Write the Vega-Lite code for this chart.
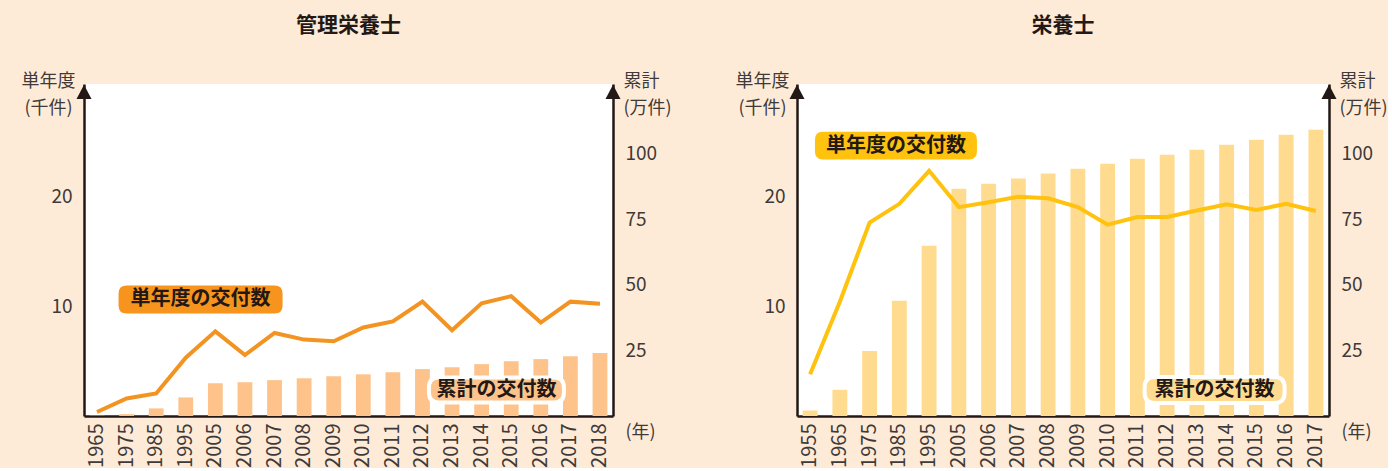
{
  "$schema": "https://vega.github.io/schema/vega-lite/v6.json",
  "background": "#FEEBD7",
  "padding": {"left": 21, "top": 15, "right": 0, "bottom": 0},
  "bounds": "flush",
  "spacing": 184,
  "config": {
    "font": "Noto Sans CJK JP",
    "view": {"fill": "white", "stroke": null},
    "title": {"font": "Noto Sans CJK JP", "fontSize": 21, "fontWeight": "bold", "color": "#231815"},
    "axis": {
      "domainColor": "#231815", "domainWidth": 2.5, "ticks": false, "grid": false,
      "labelFont": "Noto Sans CJK JP", "labelColor": "#3E3A39", "labelFontSize": 19,
      "titleFont": "Noto Sans CJK JP", "titleColor": "#3E3A39", "titleFontSize": 18, "titleFontWeight": "normal"
    },
    "text": {"font": "Noto Sans CJK JP"}
  },
  "datasets": {
    "kanri": [
      {"year": "1965", "yearly": 0.36, "cum": 0.1},
      {"year": "1975", "yearly": 1.6, "cum": 0.7},
      {"year": "1985", "yearly": 2.05, "cum": 2.9},
      {"year": "1995", "yearly": 5.3, "cum": 7.1},
      {"year": "2005", "yearly": 7.7, "cum": 12.5},
      {"year": "2006", "yearly": 5.55, "cum": 12.9},
      {"year": "2007", "yearly": 7.55, "cum": 13.7},
      {"year": "2008", "yearly": 6.95, "cum": 14.4},
      {"year": "2009", "yearly": 6.8, "cum": 15.2},
      {"year": "2010", "yearly": 8.05, "cum": 15.9},
      {"year": "2011", "yearly": 8.6, "cum": 16.7},
      {"year": "2012", "yearly": 10.4, "cum": 17.9},
      {"year": "2013", "yearly": 7.8, "cum": 18.6},
      {"year": "2014", "yearly": 10.25, "cum": 19.8},
      {"year": "2015", "yearly": 10.9, "cum": 20.9},
      {"year": "2016", "yearly": 8.5, "cum": 21.7},
      {"year": "2017", "yearly": 10.4, "cum": 22.8},
      {"year": "2018", "yearly": 10.2, "cum": 24.0}
    ],
    "eiyo": [
      {"year": "1955", "yearly": 3.8, "cum": 2.1},
      {"year": "1965", "yearly": 10.4, "cum": 10.0},
      {"year": "1975", "yearly": 17.6, "cum": 24.8},
      {"year": "1985", "yearly": 19.3, "cum": 44.0},
      {"year": "1995", "yearly": 22.3, "cum": 65.0},
      {"year": "2005", "yearly": 19.0, "cum": 86.7},
      {"year": "2006", "yearly": 19.45, "cum": 88.6},
      {"year": "2007", "yearly": 19.95, "cum": 90.6},
      {"year": "2008", "yearly": 19.8, "cum": 92.5},
      {"year": "2009", "yearly": 19.0, "cum": 94.4},
      {"year": "2010", "yearly": 17.4, "cum": 96.3},
      {"year": "2011", "yearly": 18.1, "cum": 98.2},
      {"year": "2012", "yearly": 18.1, "cum": 99.7},
      {"year": "2013", "yearly": 18.7, "cum": 101.6},
      {"year": "2014", "yearly": 19.25, "cum": 103.5},
      {"year": "2015", "yearly": 18.75, "cum": 105.4},
      {"year": "2016", "yearly": 19.3, "cum": 107.3},
      {"year": "2017", "yearly": 18.65, "cum": 109.2}
    ]
  },
  "hconcat": [
    {
      "title": {"text": "管理栄養士", "frame": "group", "anchor": "middle", "baseline": "middle", "offset": 25},
      "width": 529,
      "height": 332,
      "encoding": {
        "x": {
          "field": "year", "type": "ordinal",
          "scale": {"domain": ["1965","1975","1985","1995","2005","2006","2007","2008","2009","2010","2011","2012","2013","2014","2015","2016","2017","2018"], "paddingInner": 0.5, "paddingOuter": 0.19},
          "axis": {"title": "(年)", "titleAngle": 0, "titleAlign": "left", "titleBaseline": "middle", "titleX": 541, "titleY": 16, "labelAngle": 270, "labelPadding": 7, "labelFontSize": 20, "labelOverlap": false}
        }
      },
      "layer": [
        {
          "data": {"name": "kanri"},
          "mark": {"type": "bar", "color": "#FDC38B"},
          "encoding": {
            "y": {"field": "cum", "type": "quantitative", "scale": {"domain": [0, 126.7], "nice": false},
              "axis": {"orient": "right", "values": [25, 50, 75, 100], "labelPadding": 12, "title": ["累計", "(万件)"], "titleAngle": 0, "titleAlign": "left", "titleBaseline": "alphabetic", "titleX": 10, "titleY": 2, "titleLineHeight": 27}}
          }
        },
        {
          "data": {"values": [{"year": "2014", "v": 2.36, "label": "累計の交付数"}]},
          "mark": {"type": "point", "filled": true, "opacity": 1, "color": "#FDC38B", "stroke": "white", "strokeWidth": 4, "size": 18225,
            "shape": "M -0.852 -0.185 L 0.852 -0.185 Q 1 -0.185 1 -0.037 L 1 0.037 Q 1 0.185 0.852 0.185 L -0.852 0.185 Q -1 0.185 -1 0.037 L -1 -0.037 Q -1 -0.185 -0.852 -0.185 Z"},
          "encoding": {
            "x": {"field": "year", "type": "ordinal", "bandPosition": 1.5},
            "y": {"field": "v", "type": "quantitative", "scale": {"domain": [0, 30.2], "nice": false}, "axis": null}
          }
        },
        {
          "data": {"values": [{"year": "2014", "v": 2.36, "label": "累計の交付数"}]},
          "mark": {"type": "text", "fontSize": 20, "fontWeight": "bold", "color": "#231815", "align": "center", "baseline": "middle"},
          "encoding": {
            "x": {"field": "year", "type": "ordinal", "bandPosition": 1.5},
            "y": {"field": "v", "type": "quantitative", "scale": {"domain": [0, 30.2], "nice": false}, "axis": null},
            "text": {"field": "label"}
          }
        },
        {
          "data": {"name": "kanri"},
          "mark": {"type": "line", "color": "#F39322", "strokeWidth": 4},
          "encoding": {
            "y": {"field": "yearly", "type": "quantitative", "scale": {"domain": [0, 30.2], "nice": false},
              "axis": {"orient": "left", "values": [10, 20], "labelPadding": 12, "title": ["単年度", "(千件)"], "titleAngle": 0, "titleAlign": "center", "titleBaseline": "alphabetic", "titleX": -36, "titleY": 2, "titleLineHeight": 27}}
          }
        },
        {
          "data": {"values": [{"year": "1995", "v": 10.6, "label": "単年度の交付数"}]},
          "mark": {"type": "point", "filled": true, "opacity": 1, "color": "#F7941D", "size": 26896,
            "shape": "M -0.902 -0.171 L 0.902 -0.171 Q 1 -0.171 1 -0.073 L 1 0.073 Q 1 0.171 0.902 0.171 L -0.902 0.171 Q -1 0.171 -1 0.073 L -1 -0.073 Q -1 -0.171 -0.902 -0.171 Z"},
          "encoding": {
            "x": {"field": "year", "type": "ordinal", "bandPosition": 1.5},
            "y": {"field": "v", "type": "quantitative", "scale": {"domain": [0, 30.2], "nice": false}, "axis": null}
          }
        },
        {
          "data": {"values": [{"year": "1995", "v": 10.6, "label": "単年度の交付数"}]},
          "mark": {"type": "text", "fontSize": 20, "fontWeight": "bold", "color": "#231815", "align": "center", "baseline": "middle"},
          "encoding": {
            "x": {"field": "year", "type": "ordinal", "bandPosition": 1.5},
            "y": {"field": "v", "type": "quantitative", "scale": {"domain": [0, 30.2], "nice": false}, "axis": null},
            "text": {"field": "label"}
          }
        },
        {
          "data": {"values": [{"year": "1965", "v": 29.45}]},
          "mark": {"type": "point", "filled": true, "opacity": 1, "color": "#231815", "size": 225, "shape": "M 0 -1 L 1 0.9 L -1 0.9 Z"},
          "encoding": {
            "x": {"field": "year", "type": "ordinal", "bandPosition": -0.38},
            "y": {"field": "v", "type": "quantitative", "scale": {"domain": [0, 30.2], "nice": false}, "axis": null}
          }
        },
        {
          "data": {"values": [{"year": "2018", "v": 29.45}]},
          "mark": {"type": "point", "filled": true, "opacity": 1, "color": "#231815", "size": 225, "shape": "M 0 -1 L 1 0.9 L -1 0.9 Z"},
          "encoding": {
            "x": {"field": "year", "type": "ordinal", "bandPosition": 1.38},
            "y": {"field": "v", "type": "quantitative", "scale": {"domain": [0, 30.2], "nice": false}, "axis": null}
          }
        }
      ],
      "resolve": {"scale": {"y": "independent"}}
    },
    {
      "title": {"text": "栄養士", "frame": "group", "anchor": "middle", "baseline": "middle", "offset": 25},
      "width": 532,
      "height": 332,
      "encoding": {
        "x": {
          "field": "year", "type": "ordinal",
          "scale": {"domain": ["1955","1965","1975","1985","1995","2005","2006","2007","2008","2009","2010","2011","2012","2013","2014","2015","2016","2017"], "paddingInner": 0.5, "paddingOuter": 0.19},
          "axis": {"title": "(年)", "titleAngle": 0, "titleAlign": "left", "titleBaseline": "middle", "titleX": 544, "titleY": 16, "labelAngle": 270, "labelPadding": 7, "labelFontSize": 20, "labelOverlap": false}
        }
      },
      "layer": [
        {
          "data": {"name": "eiyo"},
          "mark": {"type": "bar", "color": "#FFDB8F"},
          "encoding": {
            "y": {"field": "cum", "type": "quantitative", "scale": {"domain": [0, 126.7], "nice": false},
              "axis": {"orient": "right", "values": [25, 50, 75, 100], "labelPadding": 12, "title": ["累計", "(万件)"], "titleAngle": 0, "titleAlign": "left", "titleBaseline": "alphabetic", "titleX": 10, "titleY": 2, "titleLineHeight": 27}}
          }
        },
        {
          "data": {"values": [{"year": "2013", "v": 2.36, "label": "累計の交付数"}]},
          "mark": {"type": "point", "filled": true, "opacity": 1, "color": "#FFDB8F", "stroke": "white", "strokeWidth": 4, "size": 19600,
            "shape": "M -0.852 -0.185 L 0.852 -0.185 Q 1 -0.185 1 -0.037 L 1 0.037 Q 1 0.185 0.852 0.185 L -0.852 0.185 Q -1 0.185 -1 0.037 L -1 -0.037 Q -1 -0.185 -0.852 -0.185 Z"},
          "encoding": {
            "x": {"field": "year", "type": "ordinal", "bandPosition": 1.69},
            "y": {"field": "v", "type": "quantitative", "scale": {"domain": [0, 30.2], "nice": false}, "axis": null}
          }
        },
        {
          "data": {"values": [{"year": "2013", "v": 2.36, "label": "累計の交付数"}]},
          "mark": {"type": "text", "fontSize": 20, "fontWeight": "bold", "color": "#231815", "align": "center", "baseline": "middle"},
          "encoding": {
            "x": {"field": "year", "type": "ordinal", "bandPosition": 1.69},
            "y": {"field": "v", "type": "quantitative", "scale": {"domain": [0, 30.2], "nice": false}, "axis": null},
            "text": {"field": "label"}
          }
        },
        {
          "data": {"name": "eiyo"},
          "mark": {"type": "line", "color": "#FFC20E", "strokeWidth": 4},
          "encoding": {
            "y": {"field": "yearly", "type": "quantitative", "scale": {"domain": [0, 30.2], "nice": false},
              "axis": {"orient": "left", "values": [10, 20], "labelPadding": 12, "title": ["単年度", "(千件)"], "titleAngle": 0, "titleAlign": "center", "titleBaseline": "alphabetic", "titleX": -35, "titleY": 2, "titleLineHeight": 27}}
          }
        },
        {
          "data": {"values": [{"year": "1975", "v": 24.6, "label": "単年度の交付数"}]},
          "mark": {"type": "point", "filled": true, "opacity": 1, "color": "#FFC20E", "size": 26244,
            "shape": "M -0.902 -0.171 L 0.902 -0.171 Q 1 -0.171 1 -0.073 L 1 0.073 Q 1 0.171 0.902 0.171 L -0.902 0.171 Q -1 0.171 -1 0.073 L -1 -0.073 Q -1 -0.171 -0.902 -0.171 Z"},
          "encoding": {
            "x": {"field": "year", "type": "ordinal", "bandPosition": 2.27},
            "y": {"field": "v", "type": "quantitative", "scale": {"domain": [0, 30.2], "nice": false}, "axis": null}
          }
        },
        {
          "data": {"values": [{"year": "1975", "v": 24.6, "label": "単年度の交付数"}]},
          "mark": {"type": "text", "fontSize": 20, "fontWeight": "bold", "color": "#231815", "align": "center", "baseline": "middle"},
          "encoding": {
            "x": {"field": "year", "type": "ordinal", "bandPosition": 2.27},
            "y": {"field": "v", "type": "quantitative", "scale": {"domain": [0, 30.2], "nice": false}, "axis": null},
            "text": {"field": "label"}
          }
        },
        {
          "data": {"values": [{"year": "1955", "v": 29.45}]},
          "mark": {"type": "point", "filled": true, "opacity": 1, "color": "#231815", "size": 225, "shape": "M 0 -1 L 1 0.9 L -1 0.9 Z"},
          "encoding": {
            "x": {"field": "year", "type": "ordinal", "bandPosition": -0.38},
            "y": {"field": "v", "type": "quantitative", "scale": {"domain": [0, 30.2], "nice": false}, "axis": null}
          }
        },
        {
          "data": {"values": [{"year": "2017", "v": 29.45}]},
          "mark": {"type": "point", "filled": true, "opacity": 1, "color": "#231815", "size": 225, "shape": "M 0 -1 L 1 0.9 L -1 0.9 Z"},
          "encoding": {
            "x": {"field": "year", "type": "ordinal", "bandPosition": 1.38},
            "y": {"field": "v", "type": "quantitative", "scale": {"domain": [0, 30.2], "nice": false}, "axis": null}
          }
        }
      ],
      "resolve": {"scale": {"y": "independent"}}
    }
  ]
}
